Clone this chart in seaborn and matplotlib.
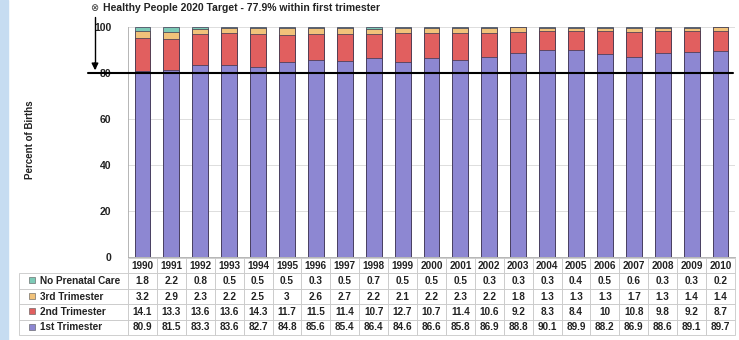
import numpy as np
import pandas as pd
import matplotlib
matplotlib.use("Agg")
import matplotlib.pyplot as plt
from matplotlib.patches import Rectangle
from matplotlib.lines import Line2D
import seaborn as sns

# datos
years = [str(y) for y in range(1990, 2011)]
no_care = [1.8, 2.2, 0.8, 0.5, 0.5, 0.5, 0.3, 0.5, 0.7, 0.5, 0.5, 0.5, 0.3, 0.3, 0.3, 0.4, 0.5, 0.6, 0.3, 0.3, 0.2]
third = [3.2, 2.9, 2.3, 2.2, 2.5, 3, 2.6, 2.7, 2.2, 2.1, 2.2, 2.3, 2.2, 1.8, 1.3, 1.3, 1.3, 1.7, 1.3, 1.4, 1.4]
second = [14.1, 13.3, 13.6, 13.6, 14.3, 11.7, 11.5, 11.4, 10.7, 12.7, 10.7, 11.4, 10.6, 9.2, 8.3, 8.4, 10, 10.8, 9.8, 9.2, 8.7]
first = [80.9, 81.5, 83.3, 83.6, 82.7, 84.8, 85.6, 85.4, 86.4, 84.6, 86.6, 85.8, 86.9, 88.8, 90.1, 89.9, 88.2, 86.9, 88.6, 89.1, 89.7]

series = ["No Prenatal Care", "3rd Trimester", "2nd Trimester", "1st Trimester"]
colores = {"No Prenatal Care": "#7ccab6", "3rd Trimester": "#f1c27a",
           "2nd Trimester": "#e15f5f", "1st Trimester": "#8d87d2"}

df = pd.DataFrame({"Year": years, "1st Trimester": first, "2nd Trimester": second,
                   "3rd Trimester": third, "No Prenatal Care": no_care})
df["c1"] = df["1st Trimester"]
df["c2"] = df["c1"] + df["2nd Trimester"]
df["c3"] = df["c2"] + df["3rd Trimester"]
df["c4"] = df["c3"] + df["No Prenatal Care"]

sns.set_style("white")
plt.rcParams["font.family"] = ["Liberation Sans", "DejaVu Sans"]

W, H = 739, 340
fig = plt.figure(figsize=(W / 100, H / 100), dpi=100)
ax = fig.add_axes([128 / W, (H - 257) / H, (735 - 128) / W, 230 / H])

# barras apiladas: de la mas alta a la mas baja
for col, name in zip(["c4", "c3", "c2", "c1"], series):
    sns.barplot(data=df, x="Year", y=col, color=colores[name], width=0.55,
                edgecolor="#3a3550", linewidth=0.5, saturation=1, ax=ax)

ax.set_ylim(0, 100)
ax.set_xlim(-0.5, 20.5)
ax.set_yticks([0, 20, 40, 60, 80, 100])
ax.set_yticklabels(["0", "20", "40", "60", "80", "100"], fontsize=7.5, fontweight="bold", color="#222222")
ax.set_xticks([])
ax.set_xlabel("")
ax.set_ylabel("")
ax.tick_params(axis="y", length=3, width=0.6, color="#aaaaaa", pad=9)
for y in [20, 40, 60, 100]:
    ax.axhline(y, color="#dddddd", lw=0.7, zorder=0)
for s in ["top", "right"]:
    ax.spines[s].set_visible(False)
for s in ["left", "bottom"]:
    ax.spines[s].set_color("#aaaaaa")
    ax.spines[s].set_linewidth(0.6)

# linea objetivo 80 y flecha
fig.add_artist(Line2D([88 / W, 733 / W], [(H - 73) / H] * 2, color="black", lw=1.5))
fig.add_artist(Line2D([95 / W, 95 / W], [(H - 17) / H, (H - 68) / H], color="black", lw=1.0))
ax.annotate("", xy=(95 / W, (H - 73) / H), xytext=(95 / W, (H - 60) / H),
            xycoords="figure fraction", textcoords="figure fraction",
            arrowprops=dict(arrowstyle="-|>", color="black", lw=1.0, mutation_scale=10))

fig.text(90 / W, (H - 8) / H, "\u2297", fontsize=7, va="center", ha="left",
         family=["DejaVu Sans"], color="#333333")
fig.text(103 / W, (H - 8) / H, "Healthy People 2020 Target - 77.9% within first trimester",
         fontsize=7.5, fontweight="bold", va="center", ha="left", color="#222222")
fig.text(30 / W, (H - 140) / H, "Percent of Births", rotation=90, fontsize=7,
         fontweight="bold", va="center", ha="center", color="#222222")

# franja azul izquierda
fig.add_artist(Rectangle((0, 0), 8 / W, 1, transform=fig.transFigure,
                         color="#c6dcf1", zorder=0))

# tabla de datos
rows = [no_care, third, second, first]
cell_text = [[("%g" % v) for v in r] for r in rows]
tab = ax.table(cellText=cell_text, rowLabels=["    " + s for s in series], colLabels=years,
               cellLoc="center", rowLoc="left",
               bbox=[0, -(335 - 257) / 230, 1, (335 - 258) / 230])
tab.auto_set_font_size(False)
for (r, c), cell in tab.get_celld().items():
    cell.set_edgecolor("#c8c8c8")
    cell.set_linewidth(0.6)
    cell.get_text().set_fontsize(7.2)
    cell.get_text().set_fontweight("bold")
    cell.get_text().set_color("#222222")
    if c == -1:
        cell.set_width((128 - 25) / (735 - 128))

# cuadritos de leyenda
row_h = (335 - 272) / 4
for i, name in enumerate(series):
    yc = 272 + row_h * (i + 0.5)
    fig.add_artist(Rectangle((29 / W, (H - yc - 3) / H), 6 / W, 6 / H,
                             transform=fig.transFigure, facecolor=colores[name],
                             edgecolor="#555555", lw=0.4))

fig.savefig("out.png", dpi=100)
